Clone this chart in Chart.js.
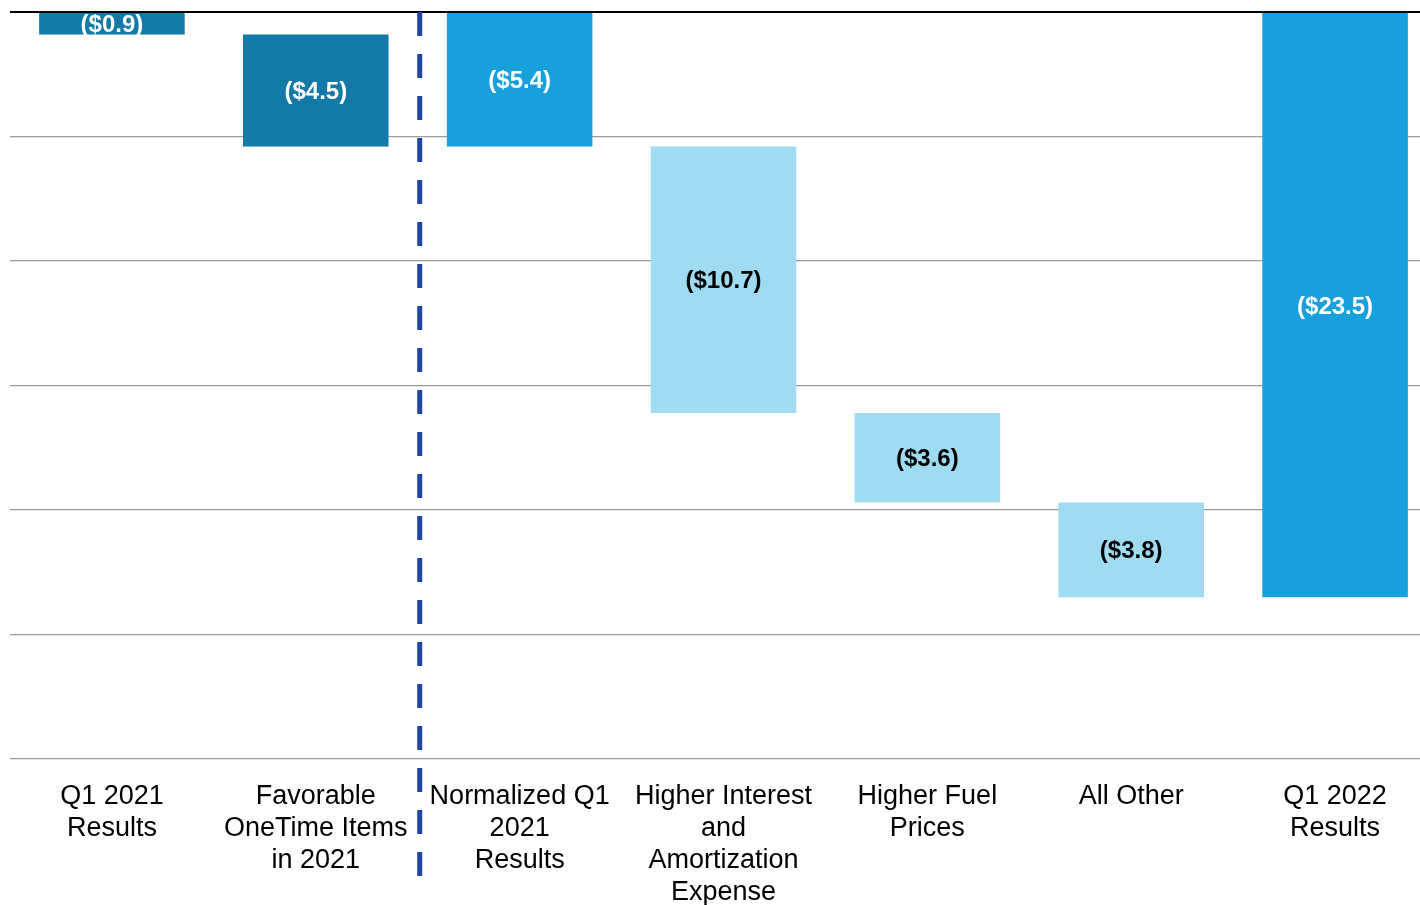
<!DOCTYPE html>
<html>
<head>
<meta charset="utf-8">
<script src="https://cdn.jsdelivr.net/npm/chart.js@4.4.1/dist/chart.umd.min.js"></script>
<style>
    html, body { margin: 0; padding: 0; background: #fff; overflow: hidden; }
    #wrap { width: 1437px; height: 905px; }
</style>
</head>
<body>
<div id="wrap"><canvas id="chart"></canvas></div>
<script>
// data
const categories = [
    ['Q1 2021', 'Results'],
    ['Favorable', 'OneTime Items', 'in 2021'],
    ['Normalized Q1', '2021', 'Results'],
    ['Higher Interest', 'and', 'Amortization', 'Expense'],
    ['Higher Fuel', 'Prices'],
    ['All Other'],
    ['Q1 2022', 'Results']
];
const changes = [-0.9, -4.5, -5.4, -10.7, -3.6, -3.8, -23.5];
const barKind = ['total', 'step', 'total', 'step', 'step', 'step', 'total'];
const yTicks = [0, -5, -10, -15, -20, -25, -30];

// floating bars for the waterfall
let running = 0;
const ranges = changes.map((v, i) => {
    if (barKind[i] === 'total') {
        running = v;
        return [0, v];
    }
    const start = running;
    running = +(running + v).toFixed(1);
    return [start, running];
});

const DARK = '#1379a7';
const MID = '#17a0db';
const LIGHT = '#9fdbf3';
const barColors = [DARK, DARK, MID, LIGHT, LIGHT, LIGHT, MID];
const textColors = ['#fff', '#fff', '#fff', '#000', '#000', '#000', '#fff'];

const FONT = '"Liberation Sans", Arial, sans-serif';

const valueLabels = {
    id: 'valueLabels',
    afterDatasetsDraw(chart) {
        const ctx = chart.ctx;
        const meta = chart.getDatasetMeta(0);
        ctx.save();
        ctx.font = 'bold 24px ' + FONT;
        ctx.textAlign = 'center';
        ctx.textBaseline = 'middle';
        meta.data.forEach((bar, i) => {
            ctx.fillStyle = textColors[i];
            const text = '($' + Math.abs(changes[i]).toFixed(1) + ')';
            ctx.fillText(text, bar.x, (bar.y + bar.base) / 2 + 2);
        });
        ctx.restore();
    }
};

const divider = {
    id: 'divider',
    afterDraw(chart) {
        const xs = chart.scales.x;
        const x = (xs.getPixelForValue(1) + xs.getPixelForValue(2)) / 2 + 2;
        const ctx = chart.ctx;
        ctx.save();
        ctx.strokeStyle = '#1f45a0';
        ctx.lineWidth = 5;
        ctx.setLineDash([24, 18]);
        ctx.beginPath();
        ctx.moveTo(x, chart.chartArea.top);
        ctx.lineTo(x, 876);
        ctx.stroke();
        ctx.restore();
    }
};

new Chart(document.getElementById('chart'), {
    type: 'bar',
    data: {
        labels: categories,
        datasets: [{
            data: ranges,
            backgroundColor: barColors,
            borderWidth: 0,
            barPercentage: 0.714,
            categoryPercentage: 1
        }]
    },
    options: {
        responsive: true,
        maintainAspectRatio: false,
        animation: false,
        layout: {padding: {left: 10, top: 12, right: 0, bottom: 0}},
        plugins: {
            legend: {display: false},
            tooltip: {enabled: false}
        },
        scales: {
            x: {
                grid: {display: false},
                border: {display: false},
                ticks: {
                    autoSkip: false,
                    maxRotation: 0,
                    padding: 14,
                    color: '#000',
                    font: {family: FONT, size: 27, lineHeight: 1.185}
                },
                afterFit: s => { s.height = 146; }
            },
            y: {
                min: yTicks[yTicks.length - 1],
                max: yTicks[0],
                afterBuildTicks: s => { s.ticks = yTicks.map(v => ({value: v})); },
                ticks: {display: false},
                border: {display: false},
                grid: {
                    drawTicks: false,
                    color: c => c.tick && c.tick.value === 0 ? '#000' : '#9a9a9a',
                    lineWidth: c => c.tick && c.tick.value === 0 ? 2 : 1.2
                },
                afterFit: s => { s.width = 0; }
            }
        }
    },
    plugins: [valueLabels, divider]
});
</script>
</body>
</html>
